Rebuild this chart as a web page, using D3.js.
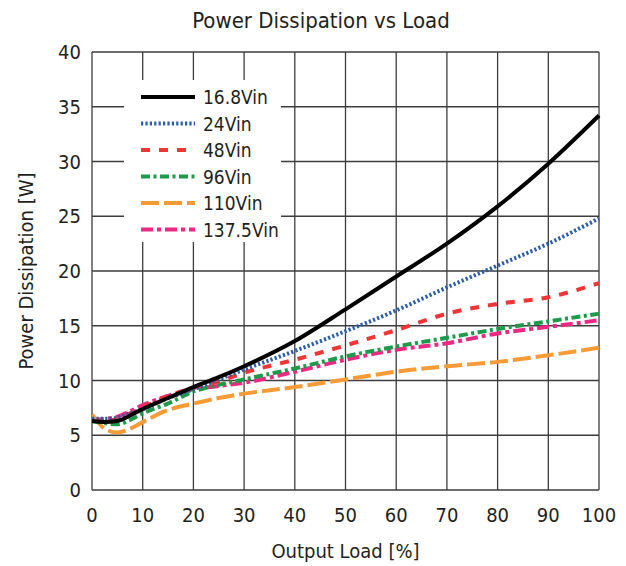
<!DOCTYPE html>
<html>
<head>
<meta charset="utf-8">
<script src="https://cdn.jsdelivr.net/npm/d3@7"></script>
<style>
    body { margin: 0; background: #fff; }
    #chart text { font-family: "DejaVu Sans Condensed", "DejaVu Sans", sans-serif; fill: #231f20; }
    .grid-line { stroke: #3c3c3c; stroke-width: 1.3; }
    .series-line { fill: none; stroke-width: 4; }
</style>
</head>
<body>
<div id="chart"></div>
<script>
// 출력 부하 [%]
var loads = [0, 2.5, 5, 7.5, 10, 15, 20, 25, 30, 40, 50, 60, 70, 80, 90, 100];
// 입력 전압별 소비 전력 [W]
var vin168 = [6.3, 6.2, 6.3, 6.8, 7.4, 8.4, 9.4, 10.3, 11.3, 13.6, 16.5, 19.5, 22.5, 25.9, 29.8, 34.2];
var vin24  = [6.5, 6.5, 6.6, 7.0, 7.4, 8.4, 9.2, 10.1, 11.0, 12.7, 14.5, 16.4, 18.5, 20.5, 22.5, 24.8];
var vin48  = [6.3, 6.3, 6.5, 7.0, 7.5, 8.6, 9.3, 9.9, 10.7, 11.9, 13.2, 14.6, 16.1, 17.0, 17.6, 18.9];
var vin96  = [6.3, 6.1, 6.0, 6.4, 7.0, 7.9, 9.0, 9.6, 10.1, 11.1, 12.2, 13.1, 13.9, 14.7, 15.4, 16.1];
var vin110 = [6.9, 5.6, 5.25, 5.6, 6.2, 7.3, 7.9, 8.4, 8.8, 9.4, 10.1, 10.8, 11.3, 11.7, 12.3, 13.0];
var vin1375 = [6.4, 6.5, 6.7, 7.2, 7.75, 8.6, 9.2, 9.5, 9.8, 10.8, 11.9, 12.8, 13.4, 14.3, 14.9, 15.5];
var seriesNames = ["16.8Vin", "24Vin", "48Vin", "96Vin", "110Vin", "137.5Vin"];
var xTicks = [0, 10, 20, 30, 40, 50, 60, 70, 80, 90, 100];
var yTicks = [0, 5, 10, 15, 20, 25, 30, 35, 40];

// 선 스타일 (색, 점선 패턴)
var lineStyles = [
    { color: "#000000", dash: null },
    { color: "#2a5daa", dash: "2.2,2.2" },
    { color: "#ef3535", dash: "9,9" },
    { color: "#1f9a4b", dash: "9,3.5,3,3.5" },
    { color: "#f79b38", dash: "18,5" },
    { color: "#ea2a82", dash: "12,4,4,4" }
];

var Chart = (function(Chart){
    function Chart(canvas){
        this.canvas = canvas;
        this.width = 626;
        this.height = 566;
        this.margin = { top: 52, right: 27, bottom: 76, left: 92 };
        this.init();
    }
    return Chart;
})(Chart || {});
var ch = Chart.prototype;

/*
* 초기화
*/
ch.init = function(){
    this.svg = d3.select(this.canvas)
        .append("svg")
        .attr("width", this.width)
        .attr("height", this.height);
    this.innerW = this.width - this.margin.left - this.margin.right;
    this.innerH = this.height - this.margin.top - this.margin.bottom;
    this.x = d3.scaleLinear().domain([0, 100]).range([0, this.innerW]);
    this.y = d3.scaleLinear().domain([0, 40]).range([this.innerH, 0]);
    this.g = this.svg.append("g")
        .attr("transform", "translate(" + this.margin.left + "," + this.margin.top + ")");
    this.drawGrid();
    this.drawSeries();
    this.drawLegend();
    this.drawTexts();
}

/**
 * 격자 그리기
 */
ch.drawGrid = function(){
    var x = this.x, y = this.y, w = this.innerW, h = this.innerH;
    this.g.selectAll(".grid-x").data(xTicks).enter()
        .append("line")
        .attr("class", "grid-line")
        .attr("x1", function(d){ return x(d); })
        .attr("x2", function(d){ return x(d); })
        .attr("y1", 0)
        .attr("y2", h);
    this.g.selectAll(".grid-y").data(yTicks).enter()
        .append("line")
        .attr("class", "grid-line")
        .attr("x1", 0)
        .attr("x2", w)
        .attr("y1", function(d){ return y(d); })
        .attr("y2", function(d){ return y(d); });

    // 축 눈금 글자
    this.g.selectAll(".ytick").data(yTicks).enter()
        .append("text")
        .attr("x", -11)
        .attr("y", function(d){ return y(d) + 7; })
        .attr("text-anchor", "end")
        .style("font-size", "20px")
        .text(function(d){ return d; });
    this.g.selectAll(".xtick").data(xTicks).enter()
        .append("text")
        .attr("x", function(d){ return x(d); })
        .attr("y", h + 32)
        .attr("text-anchor", "middle")
        .style("font-size", "20px")
        .text(function(d){ return d; });
}

/**
 * 곡선 그리기
 */
ch.drawSeries = function(){
    var x = this.x, y = this.y;
    var all = [vin168, vin24, vin48, vin96, vin110, vin1375];
    var line = d3.line()
        .x(function(d, i){ return x(loads[i]); })
        .y(function(d){ return y(d); })
        .curve(d3.curveMonotoneX);
    var clip = this.svg.append("clipPath").attr("id", "plot-clip");
    clip.append("rect").attr("x", 0).attr("y", -3).attr("width", this.innerW + 2).attr("height", this.innerH + 6);
    // 뒤에서부터 그려서 검은 선이 위로 오게
    for(var k = all.length - 1; k >= 0; k--){
        this.g.append("path")
            .attr("class", "series-line")
            .attr("clip-path", "url(#plot-clip)")
            .attr("stroke", lineStyles[k].color)
            .attr("stroke-dasharray", lineStyles[k].dash)
            .attr("d", line(all[k]));
    }
}

/**
 * 범례
 */
ch.drawLegend = function(){
    var lg = this.svg.append("g").attr("class", "legend");
    lg.append("rect")
        .attr("x", 124)
        .attr("y", 80)
        .attr("width", 157)
        .attr("height", 162)
        .attr("fill", "#fff");
    var rows = lg.selectAll(".row").data(seriesNames).enter()
        .append("g")
        .attr("transform", function(d, i){ return "translate(0," + (97 + i * 26.5) + ")"; });
    rows.append("line")
        .attr("x1", 141)
        .attr("x2", 195)
        .attr("y1", 0)
        .attr("y2", 0)
        .attr("stroke-width", 4)
        .attr("stroke", function(d, i){ return lineStyles[i].color; })
        .attr("stroke-dasharray", function(d, i){ return lineStyles[i].dash; });
    rows.append("text")
        .attr("x", 203)
        .attr("y", 7)
        .style("font-size", "19px")
        .text(function(d){ return d; });
}

/**
 * 제목, 축 제목
 */
ch.drawTexts = function(){
    this.svg.append("text")
        .attr("x", 321)
        .attr("y", 28)
        .attr("text-anchor", "middle")
        .style("font-size", "22px")
        .text("Power Dissipation vs Load");
    this.svg.append("text")
        .attr("x", this.margin.left + this.innerW / 2)
        .attr("y", 558)
        .attr("text-anchor", "middle")
        .style("font-size", "20px")
        .text("Output Load [%]");
    this.svg.append("text")
        .attr("transform", "translate(33," + (this.margin.top + this.innerH / 2) + ") rotate(-90)")
        .attr("text-anchor", "middle")
        .style("font-size", "20px")
        .text("Power Dissipation [W]");
}

var chart = new Chart("#chart");
</script>
</body>
</html>
